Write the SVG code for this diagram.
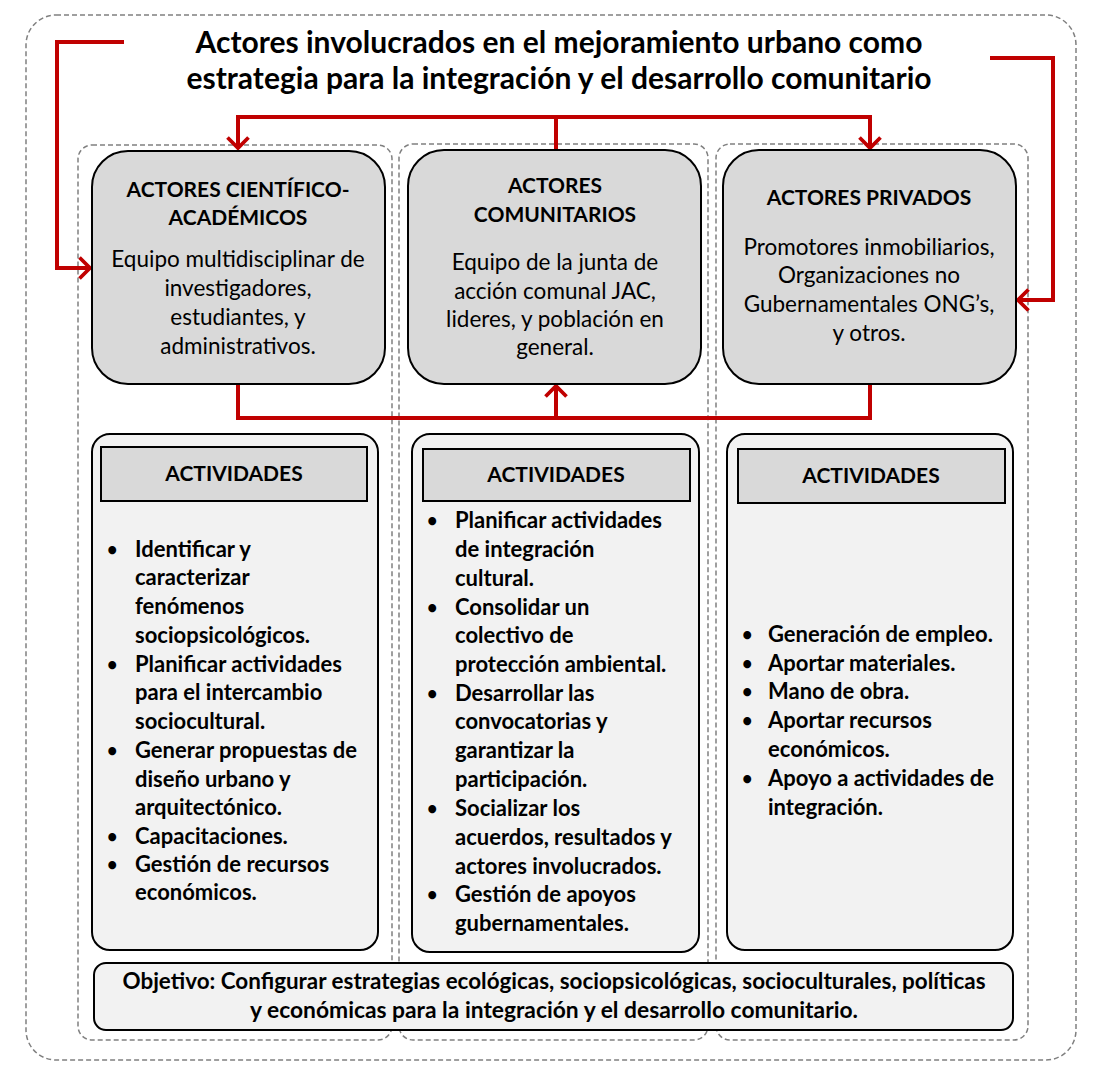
<svg xmlns="http://www.w3.org/2000/svg" width="1101" height="1076" viewBox="0 0 1101 1076">
<style>
.dash{fill:none;stroke:#808080;stroke-width:1.5;stroke-dasharray:5 3}
.actor{fill:#d9d9d9;stroke:#000;stroke-width:2}
.act{fill:#f2f2f2;stroke:#000;stroke-width:2}
.hdr{fill:#d9d9d9;stroke:#000;stroke-width:2}
text{font-family:Lato,"Liberation Sans",sans-serif;fill:#000}
.title{font-size:30px;font-weight:bold;text-anchor:middle}
.h{font-size:21px;font-weight:bold;text-anchor:middle}
.b{font-size:22.5px;text-anchor:middle}
.li{font-size:22px;font-weight:bold}
.dot{font-size:18px;font-weight:bold}
.obj{font-size:22px;font-weight:bold;text-anchor:middle}
.conn{fill:none;stroke:#c00000;stroke-width:4}
</style>
<defs>
<marker id="arr" viewBox="0 0 10 16" refX="8" refY="8" markerWidth="3.75" markerHeight="6" orient="auto" markerUnits="strokeWidth">
<path d="M1,1 L8,8 L1,15" fill="none" stroke="#c00000" stroke-width="2.5"/>
</marker>
</defs>
<rect width="1101" height="1076" fill="#fff"/>
<rect class="dash" x="26" y="15" width="1050" height="1045" rx="30"/>
<rect class="dash" x="78" y="145" width="314" height="895" rx="14"/>
<rect class="dash" x="399" y="144" width="309" height="896" rx="14"/>
<rect class="dash" x="716" y="144" width="312" height="896" rx="14"/>

<g id="title">
<text class="title" x="559" y="53">Actores involucrados en el mejoramiento urbano como</text>
<text class="title" x="559" y="89">estrategia para la integración y el desarrollo comunitario</text>
</g>

<g id="connectors">
<path class="conn" d="M124,42 H57 V268 H90" marker-end="url(#arr)"/>
<path class="conn" d="M990,58 H1053 V300 H1018" marker-end="url(#arr)"/>
<path class="conn" d="M556,150 V117 H238 V148" marker-end="url(#arr)"/>
<path class="conn" d="M556,117 H870 V148" marker-end="url(#arr)"/>
<path class="conn" d="M238,384 V418 H870 V384"/>
<path class="conn" d="M556,418 V386" marker-end="url(#arr)"/>
</g>

<g id="actor-cientifico">
<rect class="actor" x="92" y="151" width="293" height="233" rx="36"/>
<text class="h" x="238" y="197">ACTORES CIENTÍFICO-</text>
<text class="h" x="238" y="225">ACADÉMICOS</text>
<text class="b" x="238" y="267">Equipo multidisciplinar de</text>
<text class="b" x="238" y="296">investigadores,</text>
<text class="b" x="238" y="325">estudiantes, y</text>
<text class="b" x="238" y="354">administrativos.</text>
</g>

<g id="actor-comunitario">
<rect class="actor" x="408" y="150" width="293" height="234" rx="36"/>
<text class="h" x="555" y="193">ACTORES</text>
<text class="h" x="555" y="222">COMUNITARIOS</text>
<text class="b" x="555" y="270">Equipo de la junta de</text>
<text class="b" x="555" y="299">acción comunal JAC,</text>
<text class="b" x="555" y="327">lideres, y población en</text>
<text class="b" x="555" y="355">general.</text>
</g>

<g id="actor-privado">
<rect class="actor" x="723" y="150" width="293" height="234" rx="36"/>
<text class="h" x="869" y="205">ACTORES PRIVADOS</text>
<text class="b" x="869" y="255">Promotores inmobiliarios,</text>
<text class="b" x="869" y="283">Organizaciones no</text>
<text class="b" x="869" y="312">Gubernamentales ONG’s,</text>
<text class="b" x="869" y="341">y otros.</text>
</g>

<g id="actividades-cientifico">
<rect class="act" x="92" y="434" width="286" height="516" rx="18"/>
<rect class="hdr" x="101" y="447" width="266" height="54"/>
<text class="h" x="234" y="481">ACTIVIDADES</text>
<text class="dot" x="107" y="556">•</text><text class="li" x="135" y="557">Identificar y</text>
<text class="li" x="135" y="585">caracterizar</text>
<text class="li" x="135" y="614">fenómenos</text>
<text class="li" x="135" y="643">sociopsicológicos.</text>
<text class="dot" x="107" y="671">•</text><text class="li" x="135" y="672">Planificar actividades</text>
<text class="li" x="135" y="700">para el intercambio</text>
<text class="li" x="135" y="729">sociocultural.</text>
<text class="dot" x="107" y="757">•</text><text class="li" x="135" y="758">Generar propuestas de</text>
<text class="li" x="135" y="787">diseño urbano y</text>
<text class="li" x="135" y="815">arquitectónico.</text>
<text class="dot" x="107" y="843">•</text><text class="li" x="135" y="844">Capacitaciones.</text>
<text class="dot" x="107" y="871">•</text><text class="li" x="135" y="872">Gestión de recursos</text>
<text class="li" x="135" y="900">económicos.</text>
</g>

<g id="actividades-comunitario">
<rect class="act" x="412" y="434" width="287" height="518" rx="18"/>
<rect class="hdr" x="423" y="449" width="267" height="52"/>
<text class="h" x="556" y="482">ACTIVIDADES</text>
<text class="dot" x="427" y="527">•</text><text class="li" x="455" y="528">Planificar actividades</text>
<text class="li" x="455" y="557">de integración</text>
<text class="li" x="455" y="586">cultural.</text>
<text class="dot" x="427" y="614">•</text><text class="li" x="455" y="615">Consolidar un</text>
<text class="li" x="455" y="643">colectivo de</text>
<text class="li" x="455" y="672">protección ambiental.</text>
<text class="dot" x="427" y="700">•</text><text class="li" x="455" y="701">Desarrollar las</text>
<text class="li" x="455" y="729">convocatorias y</text>
<text class="li" x="455" y="758">garantizar la</text>
<text class="li" x="455" y="787">participación.</text>
<text class="dot" x="427" y="815">•</text><text class="li" x="455" y="816">Socializar los</text>
<text class="li" x="455" y="845">acuerdos, resultados y</text>
<text class="li" x="455" y="874">actores involucrados.</text>
<text class="dot" x="427" y="901">•</text><text class="li" x="455" y="902">Gestión de apoyos</text>
<text class="li" x="455" y="931">gubernamentales.</text>
</g>

<g id="actividades-privado">
<rect class="act" x="727" y="434" width="286" height="516" rx="18"/>
<rect class="hdr" x="738" y="449" width="267" height="54"/>
<text class="h" x="871" y="483">ACTIVIDADES</text>
<text class="dot" x="742" y="641">•</text><text class="li" x="768" y="642">Generación de empleo.</text>
<text class="dot" x="742" y="670">•</text><text class="li" x="768" y="671">Aportar materiales.</text>
<text class="dot" x="742" y="698">•</text><text class="li" x="768" y="699">Mano de obra.</text>
<text class="dot" x="742" y="727">•</text><text class="li" x="768" y="728">Aportar recursos</text>
<text class="li" x="768" y="757">económicos.</text>
<text class="dot" x="742" y="785">•</text><text class="li" x="768" y="786">Apoyo a actividades de</text>
<text class="li" x="768" y="815">integración.</text>
</g>

<g id="objetivo">
<rect class="act" x="94" y="963" width="919" height="67" rx="12"/>
<text class="obj" x="554" y="989" textLength="863" lengthAdjust="spacingAndGlyphs">Objetivo: Configurar estrategias ecológicas, sociopsicológicas, socioculturales, políticas</text>
<text class="obj" x="554" y="1018" textLength="608" lengthAdjust="spacingAndGlyphs">y económicas para la integración y el desarrollo comunitario.</text>
</g>
</svg>
